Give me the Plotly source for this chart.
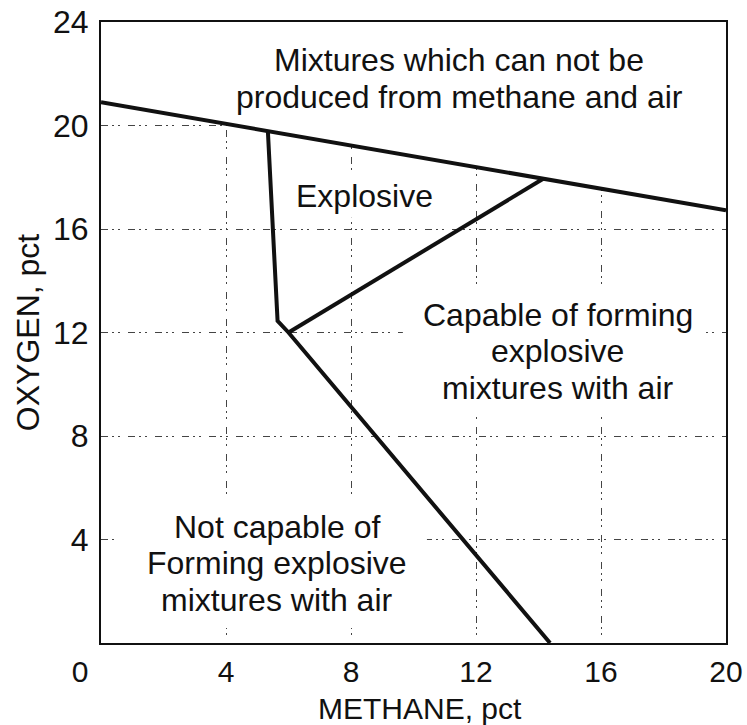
import plotly.graph_objects as go

# Composition limits of methane-air-nitrogen mixtures (percent by volume)
methane_air = [0, 20]            # methane, pct: mixtures of methane and air only
oxygen_air = [20.9, 16.72]       # oxygen, pct

methane_lower = [5.34, 5.65, 6.0, 14.37]   # lower limit and nose, continuing to oxygen 0
oxygen_lower = [19.78, 12.45, 12.0, 0]

methane_upper = [6.0, 14.15]     # upper limit branch from the nose to the air line
oxygen_upper = [12.0, 17.94]

x_ticks = [0, 4, 8, 12, 16, 20]
x_tick_labels = ["0\u00a0\u00a0\u00a0\u00a0\u00a0", "4", "8", "12", "16", "20"]
y_ticks = [4, 8, 12, 16, 20, 24]
y_tick_labels = ["4", "8", "12", "16", "20", "24"]

x_title = "METHANE, pct"
y_title = "OXYGEN, pct"

# Region labels, one entry per text line: (text, methane, oxygen)
region_lines = [
    ("Mixtures which can not be", 11.46, 22.53),
    ("produced from methane and air", 11.46, 21.10),
    ("Explosive", 8.42, 17.28),
    ("Capable of forming", 14.62, 12.68),
    ("explosive", 14.62, 11.28),
    ("mixtures with air", 14.62, 9.85),
    ("Not capable of", 5.63, 4.48),
    ("Forming explosive", 5.63, 3.09),
    ("mixtures with air", 5.63, 1.66),
]

FONT = "Liberation Sans, Arial, Helvetica, sans-serif"
TEXT = "#111111"
SIZE = 32
LINE = dict(color="#111111", width=4)

fig = go.Figure()
fig.add_trace(go.Scatter(x=methane_air, y=oxygen_air, mode="lines", line=LINE,
                         hoverinfo="skip", showlegend=False))
fig.add_trace(go.Scatter(x=methane_lower, y=oxygen_lower, mode="lines", line=LINE,
                         hoverinfo="skip", showlegend=False))
fig.add_trace(go.Scatter(x=methane_upper, y=oxygen_upper, mode="lines", line=LINE,
                         hoverinfo="skip", showlegend=False))

# White masks above the grid and below the curves: nothing gridded above the air line,
# and the grid is left open around the region labels.
air_path = "M {} {} L {} {} L {} 24 L {} 24 Z".format(
    methane_air[0], oxygen_air[0], methane_air[1], oxygen_air[1], methane_air[1], methane_air[0])
shapes = [dict(type="path", path=air_path, xref="x", yref="y", fillcolor="white",
               line=dict(width=0), layer="between")]
for x0, x1, y0, y1 in [(6.05, 10.85, 16.43, 18.2),
                       (9.66, 19.33, 8.89, 13.76),
                       (0.45, 10.43, 0.58, 5.72)]:
    shapes.append(dict(type="rect", xref="x", yref="y", x0=x0, x1=x1, y0=y0, y1=y1,
                       fillcolor="white", line=dict(width=0), layer="between"))

annotations = []
for txt, ax, ay in region_lines:
    annotations.append(dict(x=ax, y=ay, xref="x", yref="y", text=txt, showarrow=False,
                            align="center", font=dict(family=FONT, size=SIZE, color=TEXT)))

# Methane axis title, set below the tick labels
annotations.append(dict(x=0.51, y=0, xref="paper", yref="paper", yanchor="middle",
                        yshift=-65, text=x_title, showarrow=False,
                        font=dict(family=FONT, size=30, color=TEXT)))

grid_dash = "7px,4px,2px,4px,2px,8px"
axis_common = dict(showline=True, mirror=True, linecolor="#111111", linewidth=2,
                   ticks="", zeroline=False, showgrid=True, gridcolor="#444444",
                   gridwidth=1, griddash=grid_dash, automargin=False)

fig.update_layout(
    width=747, height=725,
    margin=dict(l=101, r=21, t=22, b=82),
    paper_bgcolor="white", plot_bgcolor="white",
    shapes=shapes, annotations=annotations,
    xaxis=dict(range=[0, 20], tickvals=x_ticks, ticktext=x_tick_labels,
               tickfont=dict(family=FONT, size=30, color=TEXT),
               ticklabelstandoff=1, **axis_common),
    yaxis=dict(range=[0, 24], tickvals=y_ticks, ticktext=y_tick_labels,
               tickfont=dict(family=FONT, size=SIZE, color=TEXT),
               title=dict(text=y_title, font=dict(family=FONT, size=SIZE, color=TEXT),
                          standoff=4),
               ticklabelstandoff=4, **axis_common),
)

fig.write_html("out.html")
